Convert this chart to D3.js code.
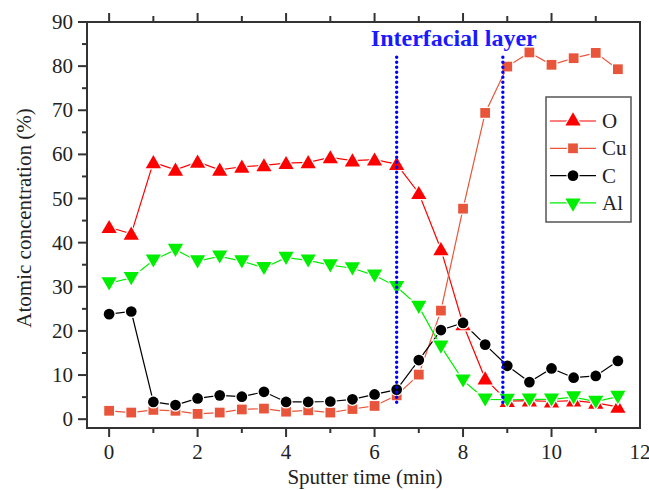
<!DOCTYPE html>
<html>
<head>
<meta charset="utf-8">
<script src="https://cdn.jsdelivr.net/npm/d3@7"></script>
<style>
  body { margin: 0; background: #fff; }
</style>
</head>
<body>
<div id="chart"></div>
<script>
var times = [0, 0.5, 1, 1.5, 2, 2.5, 3, 3.5, 4, 4.5, 5, 5.5, 6, 6.5, 7, 7.5, 8, 8.5, 9, 9.5, 10, 10.5, 11, 11.5]

var oVals  = [43.5, 42, 58.2, 56.5, 58.3, 56.5, 57.2, 57.5, 58, 58.2, 59.3, 58.6, 58.8, 57.8, 51.2, 38.5, 21.5, 9.2, 4.1, 4.2, 4, 4.2, 3.7, 2.8]
var cuVals = [1.9, 1.5, 2.1, 1.9, 1.2, 1.5, 2.2, 2.4, 1.7, 2, 1.5, 2.3, 3, 5.4, 10.1, 24.6, 47.7, 69.4, 79.9, 83.1, 80.3, 81.8, 83, 79.3]
var cVals  = [23.8, 24.4, 3.9, 3.2, 4.7, 5.4, 5.1, 6.2, 3.9, 3.9, 4, 4.5, 5.6, 6.7, 13.4, 20.2, 21.8, 16.9, 12.1, 8.4, 11.5, 9.4, 9.8, 13.2]
var alVals = [30.8, 32, 36, 38.4, 35.8, 36.9, 35.8, 34.3, 36.6, 36, 34.9, 34.2, 32.6, 30, 25.5, 16.5, 8.8, 4.5, 4.4, 4.5, 4.5, 5, 4, 5.1]

var seriesNames = ['O', 'Cu', 'C', 'Al']
var seriesColors = ['#ff0000', '#e8553a', '#000000', '#00ee00']
var seriesSymbols = ['triUp', 'square', 'circle', 'triDown']
var seriesValues = [oVals, cuVals, cVals, alVals]

var layerBounds = [6.5, 8.9]
var layerTop = 82
var layerBottom = 3
var layerLabel = 'Interfacial layer'

var xMajor = [0, 2, 4, 6, 8, 10, 12]
var xMinor = [1, 3, 5, 7, 9, 11]
var yMajor = [0, 10, 20, 30, 40, 50, 60, 70, 80, 90]
var yMinor = [5, 15, 25, 35, 45, 55, 65, 75, 85]

var width = 649, height = 490
var m = {left: 87, right: 9, top: 22, bottom: 62}
var serif = 'Liberation Serif'

var svg = d3.select('#chart').append('svg')
  .attr('width', width).attr('height', height)

var x = d3.scaleLinear().domain([-0.5, 12]).range([m.left, width - m.right])
var y = d3.scaleLinear().domain([-2, 90]).range([height - m.bottom, m.top])

var axisColor = '#333'
var textColor = '#222'
var g = svg.append('g')

// frame
g.append('rect')
  .attr('x', x.range()[0]).attr('y', y.range()[1])
  .attr('width', x.range()[1] - x.range()[0])
  .attr('height', y.range()[0] - y.range()[1])
  .attr('fill', 'none').attr('stroke', axisColor).attr('stroke-width', 2)

// ticks
var bottomY = y.range()[0], topY = y.range()[1], leftX = x.range()[0]
function ticks(data, x1, x2, y1, y2) {
  g.append('g').selectAll('line').data(data).join('line')
    .attr('x1', x1).attr('x2', x2).attr('y1', y1).attr('y2', y2)
    .attr('stroke', axisColor).attr('stroke-width', 2)
}
var xm = xMajor.filter(d => d < 12)
ticks(xm, d => x(d), d => x(d), bottomY, bottomY + 9)
ticks(xMinor, d => x(d), d => x(d), bottomY, bottomY + 5)
ticks(xm, d => x(d), d => x(d), topY, topY - 9)
ticks(xMinor, d => x(d), d => x(d), topY, topY - 6)
ticks(yMajor, leftX - 9, leftX, d => y(d), d => y(d))
ticks(yMinor, leftX - 5, leftX, d => y(d), d => y(d))

// tick labels
g.selectAll('.xl').data(xMajor).join('text')
  .attr('x', d => x(d)).attr('y', bottomY + 31)
  .attr('text-anchor', 'middle').attr('font-size', 21)
  .attr('font-family', serif).attr('fill', textColor)
  .text(d => d)
g.selectAll('.yl').data(yMajor).join('text')
  .attr('x', leftX - 14).attr('y', d => y(d) + 7)
  .attr('text-anchor', 'end').attr('font-size', 21)
  .attr('font-family', serif).attr('fill', textColor)
  .text(d => d)

// axis titles
svg.append('text')
  .attr('x', 365).attr('y', 484)
  .attr('text-anchor', 'middle').attr('font-size', 21)
  .attr('font-family', serif).attr('fill', textColor)
  .text('Sputter time (min)')
svg.append('text')
  .attr('transform', 'translate(31,218) rotate(-90)')
  .attr('text-anchor', 'middle').attr('font-size', 21)
  .attr('font-family', serif).attr('fill', textColor)
  .text('Atomic concentration (%)')

// symbols
var symSize = {triUp: 100, square: 95, circle: 90, triDown: 100}
function symPath(kind) {
  if (kind === 'square') return d3.symbol(d3.symbolSquare, symSize[kind])()
  if (kind === 'circle') return d3.symbol(d3.symbolCircle, symSize[kind])()
  return d3.symbol(d3.symbolTriangle, symSize[kind])()
}
function drawSym(sel, kind, color) {
  sel.append('path')
    .attr('d', symPath(kind))
    .attr('transform', kind === 'triDown' ? 'rotate(180)' : null)
    .attr('fill', color)
    .attr('stroke', '#fff').attr('stroke-width', 2.5)
    .attr('paint-order', 'stroke')
}

var line = d3.line().x(d => x(d[0])).y(d => y(d[1]))

seriesValues.forEach(function(vals, i) {
  var pts = times.map((t, j) => [t, vals[j]])
  g.append('path').datum(pts)
    .attr('d', line)
    .attr('fill', 'none').attr('stroke', seriesColors[i]).attr('stroke-width', 1.2)
})
seriesValues.forEach(function(vals, i) {
  var pts = times.map((t, j) => [t, vals[j]])
  var kind = seriesSymbols[i]
  var dy = kind === 'triUp' ? 1.5 : (kind === 'triDown' ? -1.5 : 0)
  g.selectAll(null).data(pts).join('g')
    .attr('transform', d => 'translate(' + x(d[0]) + ',' + (y(d[1]) + dy) + ')')
    .each(function() { drawSym(d3.select(this), kind, seriesColors[i]) })
})

// interfacial layer lines
g.selectAll('.layer').data(layerBounds).join('line')
  .attr('x1', d => x(d)).attr('x2', d => x(d))
  .attr('y1', y(layerTop)).attr('y2', y(layerBottom))
  .attr('stroke', '#0000ff').attr('stroke-width', 3.4)
  .attr('stroke-linecap', 'round').attr('stroke-dasharray', '0,5')
svg.append('text')
  .attr('x', (x(layerBounds[0]) + x(layerBounds[1])) / 2 + 4).attr('y', 46)
  .attr('text-anchor', 'middle').attr('font-size', 24).attr('font-weight', 'bold')
  .attr('font-family', serif).attr('fill', '#1a1aff')
  .text(layerLabel)

// legend
var lg = svg.append('g').attr('transform', 'translate(546,97)')
lg.append('rect').attr('width', 85).attr('height', 125)
  .attr('fill', '#fff').attr('stroke', '#555').attr('stroke-width', 1.5)
seriesNames.forEach(function(name, i) {
  var row = lg.append('g').attr('transform', 'translate(0,' + (24 + i * 27.3) + ')')
  row.append('line').attr('x1', 4).attr('x2', 50)
    .attr('stroke', seriesColors[i]).attr('stroke-width', 1.2)
  var s = row.append('g').attr('transform', 'translate(27,0)')
  drawSym(s, seriesSymbols[i], seriesColors[i])
  row.append('text').attr('x', 56).attr('y', 7).attr('font-size', 21)
    .attr('font-family', serif).attr('fill', textColor).text(name)
})
</script>
</body>
</html>
